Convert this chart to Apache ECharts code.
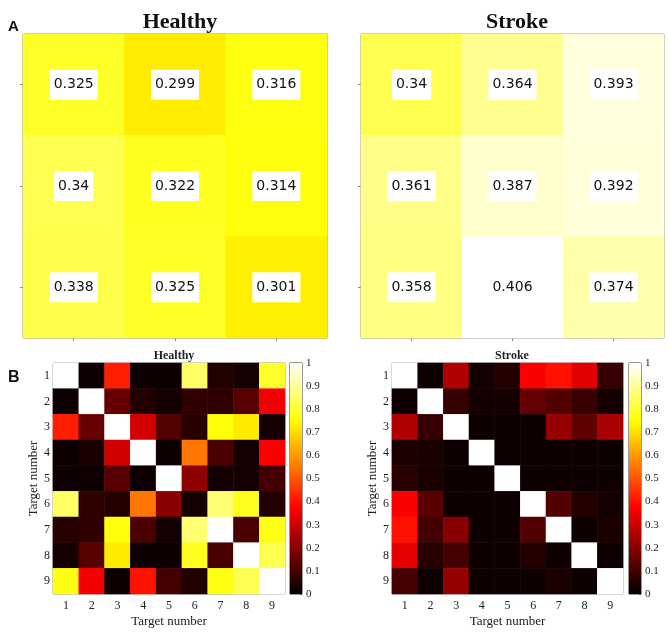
<!DOCTYPE html>
<html>
<head>
<meta charset="utf-8">
<script src="https://cdn.jsdelivr.net/npm/echarts@6/dist/echarts.min.js"></script>
<style>
html,body{margin:0;padding:0;background:#fff;}
#chart{width:669px;height:638px;}
</style>
</head>
<body>
<div id="chart"></div>
<script>
// ---- Data ----
const topCats = ['1', '2', '3'];
const healthyTop = [
  [0.325, 0.299, 0.316],
  [0.34, 0.322, 0.314],
  [0.338, 0.325, 0.301]
];
const strokeTop = [
  [0.34, 0.364, 0.393],
  [0.361, 0.387, 0.392],
  [0.358, 0.406, 0.374]
];
const targetCats = ['1', '2', '3', '4', '5', '6', '7', '8', '9'];
const healthyMat = [
  [1.00, 0.02, 0.42, 0.02, 0.02, 0.85, 0.05, 0.03, 0.79],
  [0.02, 1.00, 0.15, 0.05, 0.03, 0.07, 0.07, 0.13, 0.36],
  [0.42, 0.15, 1.00, 0.31, 0.12, 0.06, 0.76, 0.72, 0.03],
  [0.02, 0.04, 0.31, 1.00, 0.02, 0.55, 0.11, 0.03, 0.37],
  [0.02, 0.02, 0.13, 0.02, 1.00, 0.21, 0.03, 0.03, 0.10],
  [0.85, 0.07, 0.05, 0.55, 0.20, 0.03, 0.86, 0.78, 0.05],
  [0.06, 0.07, 0.76, 0.11, 0.03, 0.86, 1.00, 0.11, 0.77],
  [0.03, 0.13, 0.72, 0.02, 0.02, 0.78, 0.11, 1.00, 0.83],
  [0.77, 0.36, 0.02, 0.40, 0.10, 0.05, 0.77, 0.83, 1.00]
];
const strokeMat = [
  [1.00, 0.02, 0.26, 0.03, 0.05, 0.37, 0.40, 0.33, 0.08],
  [0.02, 1.00, 0.08, 0.03, 0.03, 0.15, 0.12, 0.08, 0.03],
  [0.26, 0.08, 1.00, 0.02, 0.02, 0.02, 0.22, 0.14, 0.25],
  [0.04, 0.04, 0.02, 1.00, 0.02, 0.02, 0.02, 0.02, 0.02],
  [0.06, 0.04, 0.02, 0.02, 1.00, 0.02, 0.02, 0.02, 0.02],
  [0.37, 0.13, 0.02, 0.02, 0.02, 1.00, 0.12, 0.05, 0.03],
  [0.40, 0.10, 0.20, 0.02, 0.02, 0.12, 1.00, 0.02, 0.04],
  [0.34, 0.06, 0.10, 0.02, 0.02, 0.05, 0.02, 1.00, 0.02],
  [0.10, 0.02, 0.22, 0.02, 0.02, 0.02, 0.04, 0.02, 1.00]
];
const colorbarTicks = [0, 1, 0.1]; // min, max, step

// ---- Helpers ----
const hot = ['#000000', '#550000', '#aa0000', '#ff0000', '#ff5500', '#ffaa00', '#ffff00', '#ffff80', '#ffffff'];
function toCells(mat) {
  const out = [];
  mat.forEach((row, r) => row.forEach((v, c) => out.push([c, r, v])));
  return out;
}
const serif = 'Liberation Serif';
const chart = echarts.init(document.getElementById('chart'));

const frameTop = '#8a8a72';
function topX(gi) {
  return { gridIndex: gi, type: 'category', data: topCats, position: 'bottom',
    axisLine: { show: false }, axisLabel: { show: false },
    axisTick: { show: true, alignWithLabel: true, length: 3, lineStyle: { color: frameTop } },
    splitLine: { show: false } };
}
function topY(gi) {
  return { gridIndex: gi, type: 'category', data: topCats, inverse: true,
    axisLine: { show: false }, axisLabel: { show: false },
    axisTick: { show: true, alignWithLabel: true, length: 3, lineStyle: { color: frameTop } },
    splitLine: { show: false } };
}
function matX(gi) {
  return { gridIndex: gi, type: 'category', data: targetCats, position: 'bottom',
    name: 'Target number', nameLocation: 'middle', nameGap: 21,
    nameTextStyle: { fontFamily: serif, fontSize: 13, color: '#222' },
    axisLine: { show: false },
    axisTick: { show: true, inside: true, alignWithLabel: true, length: 2, lineStyle: { color: '#444' } },
    axisLabel: { fontFamily: serif, fontSize: 12, color: '#222', margin: 6 },
    splitLine: { show: false } };
}
function matY(gi) {
  return { gridIndex: gi, type: 'category', data: targetCats, inverse: true,
    name: 'Target number', nameLocation: 'middle', nameGap: 10, nameRotate: 90,
    nameTextStyle: { fontFamily: serif, fontSize: 13, color: '#222' },
    axisLine: { show: false },
    axisTick: { show: true, inside: true, alignWithLabel: true, length: 2, lineStyle: { color: '#444' } },
    axisLabel: { fontFamily: serif, fontSize: 12, color: '#222', margin: 3 },
    splitLine: { show: false } };
}
function cbX(gi) {
  return { gridIndex: gi, type: 'category', data: ['cb'], show: false };
}
function cbY(gi) {
  return { gridIndex: gi, type: 'value', min: colorbarTicks[0], max: colorbarTicks[1], interval: colorbarTicks[2],
    position: 'right',
    axisLine: { show: false },
    axisTick: { show: true, inside: true, length: 2, lineStyle: { color: '#444' } },
    axisLabel: { fontFamily: serif, fontSize: 11, color: '#222', margin: 4,
      formatter: v => String(Math.round(v * 10) / 10) },
    splitLine: { show: false } };
}
const gradient = new echarts.graphic.LinearGradient(0, 1, 0, 0,
  hot.map((c, i) => ({ offset: i / (hot.length - 1), color: c })));

const topLabel = {
  show: true,
  formatter: p => String(p.value[2]),
  fontFamily: 'DejaVu Sans', fontSize: 14, color: '#111',
  backgroundColor: '#fff', padding: [8, 4, 7, 4], lineHeight: 15
};

chart.setOption({
  animation: false,
  title: [
    { text: 'Healthy', left: 175, top: 6, textAlign: 'center',
      textStyle: { fontFamily: serif, fontWeight: 'bold', fontSize: 22, color: '#111' } },
    { text: 'Stroke', left: 512, top: 6, textAlign: 'center',
      textStyle: { fontFamily: serif, fontWeight: 'bold', fontSize: 22, color: '#111' } },
    { text: 'A', left: 3, top: 14,
      textStyle: { fontFamily: 'Liberation Sans', fontWeight: 'bold', fontSize: 15, color: '#111' } },
    { text: 'Healthy', left: 169, top: 345, textAlign: 'center',
      textStyle: { fontFamily: serif, fontWeight: 'bold', fontSize: 12, color: '#222' } },
    { text: 'Stroke', left: 507, top: 345, textAlign: 'center',
      textStyle: { fontFamily: serif, fontWeight: 'bold', fontSize: 12, color: '#222' } },
    { text: 'B', left: 3, top: 365,
      textStyle: { fontFamily: 'Liberation Sans', fontWeight: 'bold', fontSize: 16, color: '#111' } }
  ],
  grid: [
    { left: 23, top: 34, width: 304, height: 304, show: true, borderColor: frameTop, borderWidth: 1, backgroundColor: 'transparent' },
    { left: 361, top: 34, width: 303, height: 304, show: true, borderColor: frameTop, borderWidth: 1, backgroundColor: 'transparent' },
    { left: 53, top: 363, width: 232, height: 231, show: true, borderColor: '#999', borderWidth: 1, backgroundColor: 'transparent' },
    { left: 392, top: 363, width: 231, height: 231, show: true, borderColor: '#999', borderWidth: 1, backgroundColor: 'transparent' },
    { left: 290, top: 363, width: 12, height: 231, show: true, borderColor: '#333', borderWidth: 1, backgroundColor: 'transparent' },
    { left: 629, top: 363, width: 12, height: 231, show: true, borderColor: '#333', borderWidth: 1, backgroundColor: 'transparent' }
  ],
  xAxis: [topX(0), topX(1), matX(2), matX(3), cbX(4), cbX(5)],
  yAxis: [topY(0), topY(1), matY(2), matY(3), cbY(4), cbY(5)],
  visualMap: [
    { type: 'continuous', show: false, seriesIndex: [0, 1], min: 0.022, max: 0.406, dimension: 2, inRange: { color: hot } },
    { type: 'continuous', show: false, seriesIndex: [2, 3], min: 0, max: 1, dimension: 2, inRange: { color: hot } }
  ],
  series: [
    { type: 'heatmap', xAxisIndex: 0, yAxisIndex: 0, data: toCells(healthyTop), label: topLabel, emphasis: { disabled: true } },
    { type: 'heatmap', xAxisIndex: 1, yAxisIndex: 1, data: toCells(strokeTop), label: topLabel, emphasis: { disabled: true } },
    { type: 'heatmap', xAxisIndex: 2, yAxisIndex: 2, data: toCells(healthyMat), emphasis: { disabled: true } },
    { type: 'heatmap', xAxisIndex: 3, yAxisIndex: 3, data: toCells(strokeMat), emphasis: { disabled: true } },
    { type: 'bar', xAxisIndex: 4, yAxisIndex: 4, data: [colorbarTicks[1]], barWidth: '100%', itemStyle: { color: gradient }, silent: true },
    { type: 'bar', xAxisIndex: 5, yAxisIndex: 5, data: [colorbarTicks[1]], barWidth: '100%', itemStyle: { color: gradient }, silent: true }
  ]
});
</script>
</body>
</html>
